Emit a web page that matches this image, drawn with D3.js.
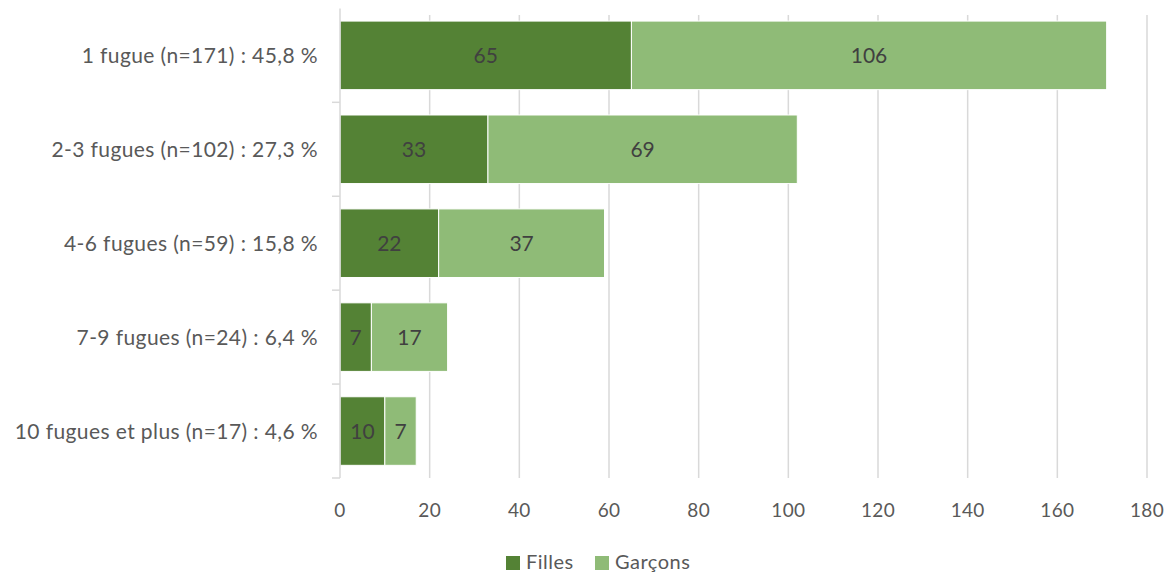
<!DOCTYPE html>
<html><head><meta charset="utf-8">
<script src="https://cdn.jsdelivr.net/npm/d3@7"></script>
<style>body{margin:0;background:#fff}svg{display:block;font-family:Lato,"Open Sans",sans-serif}</style>
</head><body>
<svg id="c" width="1168" height="574"></svg>
<script>
const categories = ["1 fugue (n=171) : 45,8 %","2-3 fugues (n=102) : 27,3 %","4-6 fugues (n=59) : 15,8 %","7-9 fugues (n=24) : 6,4 %","10 fugues et plus (n=17) : 4,6 %"];
const filles = [65,33,22,7,10];
const garcons = [106,69,37,17,7];
const seriesNames = ["Filles","Garçons"];
const xTicks = [0,20,40,60,80,100,120,140,160,180];
const colors = ["#548235","#8FBB77"];

const svg = d3.select("#c");
const x = d3.scaleLinear().domain([0,180]).range([340,1147]);
const y = d3.scaleBand().domain(categories).range([8.4,478]).paddingInner(0.27).paddingOuter(0.135);

// gridlines
svg.append("g").selectAll("line").data(xTicks.slice(1)).join("line")
  .attr("x1",d=>x(d)).attr("x2",d=>x(d)).attr("y1",15).attr("y2",478)
  .attr("stroke","#d9d9d9").attr("stroke-width",1.5);

// bars
const stackData = categories.map((c,i)=>({cat:c, vals:[filles[i],garcons[i]]}));
stackData.forEach(d=>{
  let acc=0;
  d.vals.forEach((v,j)=>{
    const x0=acc, x1=acc+v; acc=x1;
    svg.append("rect").attr("x",x(x0)).attr("y",y(d.cat)).attr("width",x(x1)-x(x0)).attr("height",y.bandwidth())
      .attr("fill",colors[j]).attr("stroke","#fff").attr("stroke-width",1);
    svg.append("text").attr("x",(x(x0)+x(x1))/2).attr("y",y(d.cat)+y.bandwidth()/2)
      .attr("dy","0.36em").attr("text-anchor","middle").attr("fill","#404040").attr("font-size",21).text(v);
  });
});

// y axis
const yAxis = svg.append("g");
yAxis.append("line").attr("x1",340).attr("x2",340).attr("y1",8.4).attr("y2",478).attr("stroke","#d9d9d9").attr("stroke-width",1.5);
const bounds = categories.map(c=>y(c)-y.step()*y.paddingInner()/2).concat([478]);
yAxis.selectAll(".tk").data(bounds.slice(1)).join("line").attr("class","tk")
  .attr("x1",332).attr("x2",340).attr("y1",d=>d).attr("y2",d=>d).attr("stroke","#d9d9d9").attr("stroke-width",1.5);
yAxis.selectAll("text").data(categories).join("text")
  .attr("x",318).attr("y",d=>y(d)+y.bandwidth()/2).attr("dy","0.36em").attr("text-anchor","end")
  .attr("fill","#595959").attr("font-size",21).attr("letter-spacing",0.4).text(d=>d);

// x tick labels
svg.append("g").selectAll("text").data(xTicks).join("text")
  .attr("x",d=>x(d)).attr("y",510).attr("dy","0.36em").attr("text-anchor","middle")
  .attr("fill","#595959").attr("font-size",19).attr("letter-spacing",0.3).text(d=>d);

// legend
const lg = svg.append("g");
const lx = [506,595];
seriesNames.forEach((n,i)=>{
  lg.append("rect").attr("x",lx[i]).attr("y",556).attr("width",14).attr("height",14).attr("fill",colors[i]);
  lg.append("text").attr("x",lx[i]+20).attr("y",568.5).attr("fill","#595959").attr("font-size",20).attr("letter-spacing",0.5).text(n);
});
</script>
</body></html>
